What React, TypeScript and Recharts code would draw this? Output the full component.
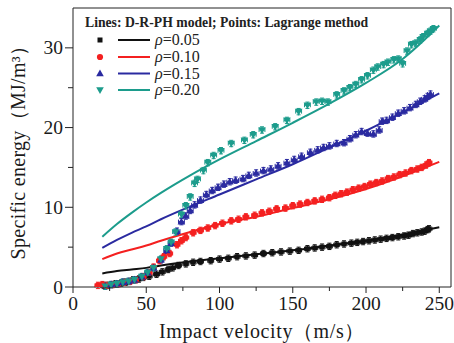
import React from "react";
import {
  ComposedChart,
  XAxis,
  YAxis,
  Line,
  Scatter,
  ErrorBar,
  ReferenceLine,
} from "recharts";

// ---------- data ----------
const X_TICKS = [0, 25, 50, 75, 100, 125, 150, 175, 200, 225, 250];
const Y_TICKS = [0, 5, 10, 15, 20, 25, 30];
const X_MAX = 258;
const Y_MAX = 35;

const SERIES_LABELS = ["0.05", "0.10", "0.15", "0.20"];

// D-R-PH model lines
const lineX = [20, 30, 40, 50, 60, 80, 100, 125, 150, 175, 200, 225, 250];
const line005 = [1.7, 2.0, 2.2, 2.4, 2.7, 3.2, 3.6, 4.1, 4.6, 5.2, 5.8, 6.6, 7.5];
const line010 = [3.5, 4.2, 4.7, 5.2, 5.8, 6.9, 7.9, 8.8, 9.9, 11.0, 12.3, 13.9, 15.7];
const line015 = [4.9, 5.9, 6.8, 7.6, 8.5, 10.1, 11.6, 13.5, 15.4, 17.5, 19.6, 21.9, 24.3];
const line020 = [6.3, 7.9, 9.3, 10.6, 11.8, 14.0, 16.0, 18.3, 20.6, 23.0, 25.6, 28.6, 32.8];

// Lagrange method points [velocity, energy]
const pts005: [number, number][] = [
  [21, 0.2], [24, 0.2], [29, 0.4], [33, 0.5], [36, 0.6], [41, 0.9], [45, 1.0], [48, 1.2],
  [52, 1.35], [57, 1.6], [61, 1.9], [65, 2.2], [68, 2.4], [72, 2.7], [77, 2.9], [82, 3.1],
  [87, 3.2], [94, 3.3], [100, 3.5], [106, 3.6], [112, 3.8], [118, 3.9], [124, 4.0], [130, 4.2],
  [136, 4.3], [142, 4.4], [148, 4.5], [154, 4.6], [160, 4.8], [165, 4.9], [170, 5.0], [175, 5.1],
  [180, 5.3], [185, 5.4], [190, 5.5], [194, 5.6], [198, 5.7], [202, 5.8], [206, 5.9], [210, 6.0],
  [214, 6.1], [218, 6.2], [222, 6.3], [226, 6.4], [229, 6.5], [232, 6.7], [235, 6.8], [238, 6.9],
  [240, 7.0], [242, 7.2], [243, 7.3],
];
const pts010: [number, number][] = [
  [17, 0.2], [20, 0.3], [23, 0.2], [27, 0.3], [31, 0.4], [35, 0.6], [39, 0.7], [43, 0.9],
  [48, 1.3], [52, 1.8], [55, 2.5], [59, 3.3], [62, 3.8], [66, 4.2], [71, 5.3], [74, 5.8],
  [77, 6.2], [82, 6.8], [87, 7.1], [92, 7.4], [97, 7.7], [102, 8.0], [108, 8.3], [113, 8.5],
  [118, 8.8], [124, 9.0], [129, 9.3], [134, 9.5], [139, 9.8], [145, 9.9], [150, 10.2], [155, 10.4],
  [160, 10.6], [165, 10.8], [170, 11.0], [175, 11.2], [179, 11.5], [183, 11.7], [187, 11.9],
  [191, 12.2], [195, 12.4], [199, 12.6], [203, 12.9], [207, 13.1], [211, 13.3], [215, 13.6],
  [219, 13.8], [223, 14.1], [227, 14.3], [231, 14.6], [235, 14.8], [238, 15.0], [241, 15.3],
  [243, 15.6],
];
const pts015: [number, number][] = [
  [22, 0.1], [26, 0.3], [30, 0.4], [34, 0.6], [38, 0.7], [42, 0.9], [47, 1.3], [51, 1.8],
  [55, 2.4], [60, 3.4], [64, 4.6], [67, 5.5], [71, 7.0], [74, 8.2], [77, 8.9], [80, 9.6],
  [83, 10.3], [87, 10.9], [91, 11.6], [95, 12.1], [99, 12.5], [103, 12.9], [107, 13.2],
  [111, 13.4], [116, 13.6], [120, 14.0], [125, 14.3], [130, 14.6], [135, 14.8], [140, 15.2],
  [146, 15.6], [151, 16.0], [156, 16.4], [162, 16.9], [167, 17.2], [171, 17.5], [175, 17.7],
  [180, 18.0], [185, 18.1], [189, 18.6], [193, 19.1], [197, 19.5], [201, 19.3], [205, 19.2],
  [209, 19.7], [211, 20.8], [214, 20.9], [218, 21.3], [222, 21.8], [226, 22.1], [230, 22.5],
  [234, 22.9], [237, 23.3], [240, 23.6], [242, 23.9], [244, 24.2],
];
const pts020: [number, number][] = [
  [22, 0.1], [26, 0.3], [30, 0.4], [34, 0.6], [38, 0.7], [42, 0.9], [47, 1.3], [51, 1.8],
  [55, 2.4], [60, 3.5], [64, 4.8], [67, 5.6], [70, 6.9], [74, 9.1], [77, 10.2], [80, 11.3],
  [83, 13.0], [85, 13.5], [89, 14.6], [92, 15.6], [96, 16.5], [101, 17.1], [108, 18.0],
  [117, 18.4], [123, 19.1], [129, 19.7], [138, 20.1], [146, 20.9], [154, 22.0], [160, 22.8],
  [166, 23.2], [170, 23.3], [174, 23.2], [180, 24.1], [185, 24.6], [189, 25.0], [193, 25.4],
  [197, 26.0], [201, 26.5], [205, 27.2], [208, 27.6], [212, 27.9], [215, 28.2], [219, 28.5],
  [222, 28.6], [225, 28.0], [228, 29.6], [231, 30.4], [234, 30.6], [237, 31.0], [239, 31.4],
  [242, 31.8], [244, 32.1], [246, 32.4],
];

// ---------- tables built from the arrays ----------
const toLine = (ys: number[]) => lineX.map((x, i) => ({ x, y: ys[i] }));
const toPts = (pts: [number, number][]) => pts.map(([x, y]) => ({ x, y, ex: 2, ey: 0.4 }));

const COLORS = ["#111111", "#f42020", "#2a2aa0", "#1c9c8c"];
const FONT = "'Liberation Serif', 'Times New Roman', serif";
const AXIS = "#222";

// ---------- marker shapes ----------
const Square = ({ cx, cy, color }: any) =>
  cx == null ? null : <rect x={cx - 2.5} y={cy - 2.5} width={5} height={5} fill={color} />;
const Dot = ({ cx, cy, color }: any) =>
  cx == null ? null : <circle cx={cx} cy={cy} r={3.1} fill={color} />;
const TriUp = ({ cx, cy, color }: any) =>
  cx == null ? null : (
    <polygon points={`${cx},${cy - 4} ${cx - 3.8},${cy + 2.8} ${cx + 3.8},${cy + 2.8}`} fill={color} />
  );
const TriDown = ({ cx, cy, color }: any) =>
  cx == null ? null : (
    <polygon points={`${cx},${cy + 4} ${cx - 3.8},${cy - 2.8} ${cx + 3.8},${cy - 2.8}`} fill={color} />
  );
const SHAPES = [Square, Dot, TriUp, TriDown];

// ---------- ticks ----------
const XTick = ({ x, y, payload }: any) => {
  const major = payload.value % 50 === 0;
  return (
    <g>
      <line x1={x} x2={x} y1={y} y2={y + (major ? 6 : 4)} stroke={AXIS} strokeWidth={1} />
      {major && (
        <text x={x} y={y + 23} textAnchor="middle" fontFamily={FONT} fontSize={19.5} fill="#1a1a1a">
          {payload.value}
        </text>
      )}
    </g>
  );
};
const YTick = ({ x, y, payload }: any) => {
  const major = payload.value % 10 === 0;
  return (
    <g>
      <line x1={x} x2={x - (major ? 8 : 5)} y1={y} y2={y} stroke={AXIS} strokeWidth={1} />
      {major && (
        <text x={x - 10} y={y + 6.5} textAnchor="end" fontFamily={FONT} fontSize={19.5} fill="#1a1a1a">
          {payload.value}
        </text>
      )}
    </g>
  );
};

const XLabel = ({ viewBox }: any) => (
  <text
    x={viewBox.x + viewBox.width / 2}
    y={viewBox.y + 51}
    textAnchor="middle"
    fontFamily={FONT}
    fontSize={20}
    letterSpacing={0.6}
    fill="#1a1a1a"
  >
    Impact velocity（m/s）
  </text>
);
const YLabel = ({ viewBox }: any) => {
  const cx = 25;
  const cy = viewBox.y + viewBox.height / 2;
  return (
    <text
      x={cx}
      y={cy}
      transform={`rotate(-90 ${cx} ${cy})`}
      textAnchor="middle"
      fontFamily={FONT}
      fontSize={20}
      letterSpacing={0.3}
      fill="#1a1a1a"
    >
      Specific energy（MJ/m³）
    </text>
  );
};

const LegendOverlay = () => {
  const rows = [40, 57, 73.5, 90];
  return (
    <svg
      width={454}
      height={343}
      style={{ position: "absolute", left: 0, top: 0, pointerEvents: "none" }}
    >
      <text x={85} y={27} fontFamily={FONT} fontSize={13.7} fontWeight="bold" fill="#222">
        Lines: D-R-PH model; Points: Lagrange method
      </text>
      {rows.map((ry, i) => {
        const Shape = SHAPES[i];
        return (
          <g key={i}>
            <Shape cx={100} cy={ry} color={COLORS[i]} />
            <line x1={118} x2={150} y1={ry} y2={ry} stroke={COLORS[i]} strokeWidth={2} />
            <text x={155} y={ry + 5} fontFamily={FONT} fontSize={16} fill="#222">
              <tspan fontStyle="italic">ρ</tspan>={SERIES_LABELS[i]}
            </text>
          </g>
        );
      })}
    </svg>
  );
};

export default function App() {
  const lines = [line005, line010, line015, line020];
  const pts = [pts005, pts010, pts015, pts020];
  return (
    <div style={{ position: "absolute", left: 0, top: 0, width: 454, height: 343, background: "#fff" }}>
      <ComposedChart width={454} height={343} margin={{ top: 8, right: 3, bottom: 0, left: 0 }}>
        <XAxis
          type="number"
          dataKey="x"
          domain={[0, X_MAX]}
          ticks={X_TICKS}
          allowDataOverflow
          height={56}
          stroke={AXIS}
          tickLine={false}
          tickSize={0}
          tickMargin={0}
          tick={<XTick />}
          interval={0}
          label={<XLabel />}
        />
        <YAxis
          type="number"
          dataKey="y"
          domain={[0, Y_MAX]}
          ticks={Y_TICKS}
          allowDataOverflow
          width={73}
          stroke={AXIS}
          tickLine={false}
          tickSize={0}
          tickMargin={0}
          tick={<YTick />}
          interval={0}
          label={<YLabel />}
        />
        <ReferenceLine y={Y_MAX} stroke={AXIS} strokeWidth={1} ifOverflow="visible" />
        <ReferenceLine x={X_MAX} stroke={AXIS} strokeWidth={1} ifOverflow="visible" />
        {lines.map((ys, i) => (
          <Line
            key={`l${i}`}
            data={toLine(ys)}
            dataKey="y"
            type="monotone"
            stroke={COLORS[i]}
            strokeWidth={2}
            dot={false}
            isAnimationActive={false}
          />
        ))}
        {pts.map((p, i) => {
          const Shape = SHAPES[i];
          return (
            <Scatter
              key={`s${i}`}
              data={toPts(p)}
              dataKey="y"
              fill={COLORS[i]}
              shape={(props: any) => <Shape cx={props.cx} cy={props.cy} color={COLORS[i]} />}
              isAnimationActive={false}
            >
              <ErrorBar dataKey="ex" direction="x" width={2} stroke={COLORS[i]} strokeWidth={1} />
              <ErrorBar dataKey="ey" direction="y" width={2} stroke={COLORS[i]} strokeWidth={1} />
            </Scatter>
          );
        })}
      </ComposedChart>
      <LegendOverlay />
    </div>
  );
}
